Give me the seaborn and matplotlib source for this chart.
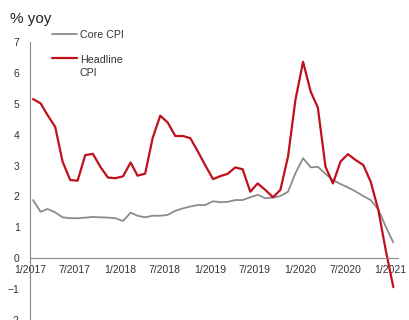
import seaborn as sns
import matplotlib.pyplot as plt
import matplotlib.dates as mdates
import numpy as np
import pandas as pd

# monthly readings, Jan 2017 .. Jan 2021
months = pd.date_range('2017-01-01', periods=49, freq='MS') + pd.Timedelta(days=12)

headline = [5.16, 5.02, 4.64, 4.26, 3.13, 2.53, 2.51, 3.34, 3.38, 2.96, 2.61, 2.59,
            2.65, 3.10, 2.67, 2.74, 3.89, 4.62, 4.40, 3.96, 3.96, 3.89, 3.45, 3.00,
            2.56, 2.66, 2.73, 2.94, 2.88, 2.15, 2.42, 2.21, 1.97, 2.21, 3.29, 5.13,
            6.37, 5.40, 4.88, 2.96, 2.42, 3.13, 3.37, 3.18, 3.02, 2.48, 1.56, 0.26,
            -0.95]
core = [1.88, 1.50, 1.59, 1.48, 1.32, 1.29, 1.29, 1.31, 1.33, 1.32, 1.31, 1.29,
        1.20, 1.47, 1.37, 1.32, 1.37, 1.37, 1.40, 1.53, 1.61, 1.67, 1.72, 1.72,
        1.84, 1.81, 1.82, 1.88, 1.88, 1.97, 2.05, 1.94, 1.96, 2.01, 2.15, 2.75,
        3.24, 2.94, 2.96, 2.73, 2.53, 2.40, 2.29, 2.16, 2.01, 1.88, 1.58, 1.02,
        0.50]

tick_dates = pd.date_range('2017-01-01', '2021-01-01', freq='6MS')
tick_labels = [f"{d.month}/{d.year}" for d in tick_dates]
y_ticks = list(range(-2, 8))

sns.set_style('white')
plt.rcParams['font.family'] = ['Liberation Sans', 'DejaVu Sans']

fig = plt.figure(figsize=(4.1, 3.2), dpi=100)
ax = fig.add_axes([0.0732, 0.0015, 0.8976, 0.866])

sns.lineplot(x=months, y=core, ax=ax, color='#8c8c8c', lw=1.3, label='Core CPI')
sns.lineplot(x=months, y=headline, ax=ax, color='#c0101c', lw=1.6, label='Headline\nCPI')

ax.set_xlim(pd.Timestamp('2017-01-01'), pd.Timestamp('2021-02-01'))
ax.set_ylim(-2, 7)
ax.set_yticks(y_ticks)
ax.set_xticks(tick_dates)
ax.set_xticklabels(tick_labels)

for s in ['top', 'right']:
    ax.spines[s].set_visible(False)
ax.spines['bottom'].set_position(('data', 0))
for s in ['left', 'bottom']:
    ax.spines[s].set_color('#8a8a8a')
    ax.spines[s].set_linewidth(0.8)

ax.tick_params(axis='x', direction='in', length=2.5, width=0.8, color='#8a8a8a',
               labelsize=7.5, pad=5, labelcolor='#333333')
ax.tick_params(axis='y', direction='out', length=3, width=0.8, color='#8a8a8a',
               labelsize=7.5, pad=4.5, labelcolor='#333333')
ax.set_xlabel('')
ax.set_ylabel('')
ax.grid(False)

leg = ax.legend(loc='upper left', bbox_to_anchor=(0.127, 0.906), bbox_transform=fig.transFigure,
                frameon=False, fontsize=7.7, handlelength=2.35, handletextpad=0.25,
                borderpad=0, borderaxespad=0, labelspacing=1.35, labelcolor='#333333')
for t in leg.get_texts():
    t.set_linespacing(1.45)
# put the legend line next to the first line of a wrapped label
for col in leg._legend_handle_box.get_children():
    for item in col.get_children():
        item.align = 'top'

fig.text(0.024, 0.928, '% yoy', fontsize=11, va='baseline', color='#222222')

fig.savefig('out.png', dpi=100)
